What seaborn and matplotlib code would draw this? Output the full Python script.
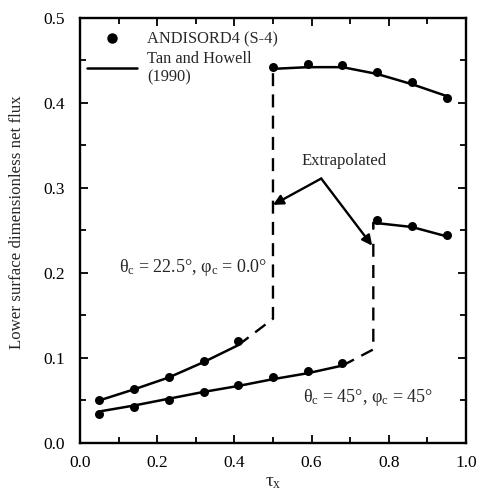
import numpy as np
import pandas as pd
import matplotlib
matplotlib.use("Agg")
import matplotlib.pyplot as plt
import seaborn as sns
from matplotlib.lines import Line2D

# ---- data ----
# Case A: theta_c = 22.5 deg, phi_c = 0.0 deg
a_left_x = [0.05, 0.14, 0.23, 0.32, 0.41]
a_left_pts = [0.051, 0.064, 0.078, 0.096, 0.120]
a_left_line = [0.050, 0.063, 0.077, 0.095, 0.115]
a_dash_x = [0.41, 0.50, 0.50]
a_dash_y = [0.115, 0.146, 0.442]
a_right_x = [0.50, 0.59, 0.68, 0.77, 0.86, 0.95]
a_right_pts = [0.442, 0.446, 0.444, 0.436, 0.424, 0.406]
a_right_line = [0.440, 0.442, 0.442, 0.434, 0.422, 0.408]

# Case B: theta_c = 45 deg, phi_c = 45 deg
b_left_x = [0.05, 0.14, 0.23, 0.32, 0.41, 0.50, 0.59, 0.68]
b_left_pts = [0.034, 0.042, 0.050, 0.060, 0.068, 0.077, 0.085, 0.094]
b_left_line = [0.037, 0.044, 0.052, 0.060, 0.067, 0.075, 0.082, 0.091]
b_dash_x = [0.68, 0.76, 0.76]
b_dash_y = [0.091, 0.110, 0.235]
b_right_line_x = [0.76, 0.76, 0.86, 0.95]
b_right_line = [0.252, 0.259, 0.254, 0.243]
b_right_x = [0.77, 0.86, 0.95]
b_right_pts = [0.262, 0.255, 0.244]

x_ticks = [0.0, 0.2, 0.4, 0.6, 0.8, 1.0]
y_ticks = [0.0, 0.1, 0.2, 0.3, 0.4, 0.5]

sns.set_theme(style="ticks")
plt.rcParams['font.family'] = ['Liberation Serif', 'DejaVu Serif']
plt.rcParams['mathtext.fontset'] = 'custom'
plt.rcParams['mathtext.rm'] = 'Liberation Serif'
plt.rcParams['mathtext.it'] = 'Liberation Serif:italic'

fig = plt.figure(figsize=(4.8, 4.96), dpi=100)
ax = fig.add_axes([0.1667, 0.107, 0.804, 0.857])

lw = 1.8
dash = (0, (5.5, 3.5))

# solid (Tan and Howell) lines
for xs, ys in [(a_left_x, a_left_line), (a_right_x, a_right_line),
               (b_left_x, b_left_line), (b_right_line_x, b_right_line)]:
    df = pd.DataFrame({"x": xs, "y": ys})
    sns.lineplot(data=df, x="x", y="y", ax=ax, color="black", lw=lw,
                 sort=False, estimator=None)

# dashed extrapolations
for xs, ys in [(a_dash_x, a_dash_y), (b_dash_x, b_dash_y)]:
    df = pd.DataFrame({"x": xs, "y": ys})
    sns.lineplot(data=df, x="x", y="y", ax=ax, color="black", lw=1.7,
                 sort=False, estimator=None, linestyle=dash)

# ANDISORD4 points
for xs, ys in [(a_left_x, a_left_pts), (a_right_x, a_right_pts),
               (b_left_x, b_left_pts), (b_right_x, b_right_pts)]:
    df = pd.DataFrame({"x": xs, "y": ys})
    sns.scatterplot(data=df, x="x", y="y", ax=ax, color="black", s=42,
                    edgecolor="black", linewidth=0, zorder=5)

# annotations
ax.text(0.685, 0.332, "Extrapolated", ha="center", va="center", fontsize=12)
apex = (0.625, 0.311)
for tip in [(0.50, 0.280), (0.757, 0.232)]:
    ax.annotate("", xy=tip, xytext=apex,
                arrowprops=dict(arrowstyle="-|>", color="black", lw=1.7,
                                mutation_scale=15, shrinkA=0, shrinkB=0))

ax.text(0.485, 0.206, "θ$_\\mathrm{c}$ = 22.5°, φ$_\\mathrm{c}$ = 0.0°",
        ha="right", va="center", fontsize=13)
ax.text(0.578, 0.053, "θ$_\\mathrm{c}$ = 45°, φ$_\\mathrm{c}$ = 45°",
        ha="left", va="center", fontsize=13)

# legend
handles = [Line2D([], [], ls="none", marker="o", color="black", markersize=6.5),
           Line2D([], [], color="black", lw=lw)]
ax.legend(handles, ["ANDISORD4 (S-4)", "Tan and Howell\n(1990)"],
          loc="upper left", frameon=False, fontsize=11.8, handlelength=3.1,
          handletextpad=0.6, borderaxespad=0.0, labelspacing=0.2,
          bbox_to_anchor=(0.0, 0.983))

ax.set_xlim(0.0, 1.0)
ax.set_ylim(0.0, 0.5)
ax.set_xticks(x_ticks)
ax.set_yticks(y_ticks)
ax.set_xticklabels([f"{v:.1f}" for v in x_ticks])
ax.set_yticklabels([f"{v:.1f}" for v in y_ticks])
ax.set_xticks(np.arange(0.1, 1.0, 0.2), minor=True)
ax.set_yticks(np.arange(0.05, 0.5, 0.1), minor=True)
ax.tick_params(which="both", direction="in", top=True, right=True,
               labelsize=12.5, width=1.3, colors="black")
ax.tick_params(axis="y", which="major", pad=11)
ax.tick_params(axis="x", which="major", pad=9)
ax.tick_params(which="major", length=6)
ax.tick_params(which="minor", length=4)
for s in ax.spines.values():
    s.set_linewidth(1.7)
    s.set_color("black")

ax.set_xlabel("τ$_\\mathrm{x}$", fontsize=14, labelpad=2)
ax.set_ylabel("Lower surface dimensionless net flux", fontsize=12.2)
ax.yaxis.set_label_coords(-0.143, 0.52)

fig.savefig("out.png", dpi=100)
